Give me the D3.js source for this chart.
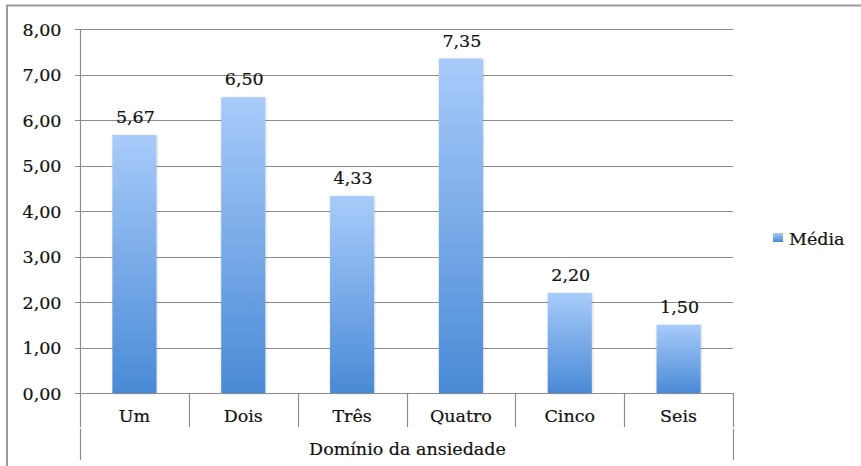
<!DOCTYPE html>
<html>
<head>
<meta charset="utf-8">
<script src="https://cdn.jsdelivr.net/npm/d3@7"></script>
<style>
  html, body { margin: 0; padding: 0; background: #fff; }
  svg { display: block; }
  text { font-family: "DejaVu Serif", "Liberation Serif", serif; fill: #111; stroke: #111; stroke-width: 0.2px; }
</style>
</head>
<body>
<svg id="chart" width="861" height="466"></svg>
<script>
// Chart data
const categories = ["Um", "Dois", "Três", "Quatro", "Cinco", "Seis"];
const media = [5.67, 6.50, 4.33, 7.35, 2.20, 1.50];
const yTicks = [0, 1, 2, 3, 4, 5, 6, 7, 8];
const groupLabel = "Domínio da ansiedade";
const seriesName = "Média";

const fmt = v => d3.format(".2f")(v).replace(".", ",");
const FS = 17.5;

const svg = d3.select("#chart");
const W = 861, H = 466;
const plot = { left: 80, right: 733, top: 29, bottom: 393 };

// Outer frame
svg.append("rect")
  .attr("x", 7).attr("y", 5.5)
  .attr("width", W + 10).attr("height", H + 10)
  .attr("fill", "none").attr("stroke", "#9a9a9a").attr("stroke-width", 2);

const defs = svg.append("defs");
const grad = defs.append("linearGradient")
  .attr("id", "barGrad").attr("x1", 0).attr("y1", 0).attr("x2", 0).attr("y2", 1);
grad.append("stop").attr("offset", "0%").attr("stop-color", "#a8cbfa");
grad.append("stop").attr("offset", "100%").attr("stop-color", "#4a8ad6");

const shadow = defs.append("filter").attr("id", "barShadow")
  .attr("x", "-20%").attr("y", "-5%").attr("width", "140%").attr("height", "110%");
shadow.append("feDropShadow").attr("dx", 0.5).attr("dy", 0.5)
  .attr("stdDeviation", 1.2).attr("flood-color", "#000").attr("flood-opacity", 0.22);

const x = d3.scaleBand().domain(categories).range([plot.left, plot.right]).paddingInner(0).paddingOuter(0);
const y = d3.scaleLinear().domain([0, 8]).range([plot.bottom, plot.top]);

// Gridlines
svg.append("g").selectAll("line").data(yTicks).join("line")
  .attr("x1", plot.left - 5).attr("x2", plot.right)
  .attr("y1", d => Math.round(y(d)) + 0.5).attr("y2", d => Math.round(y(d)) + 0.5)
  .attr("stroke", "#8c8c8c").attr("stroke-width", 1.2);

// Y axis
const yAxis = d3.axisLeft(y).tickValues(yTicks).tickFormat(fmt).tickSize(0).tickPadding(19);
const gy = svg.append("g").attr("transform", `translate(${plot.left + 0.5},0)`).call(yAxis);
gy.select(".domain").remove();
gy.selectAll("text").attr("font-size", FS).attr("font-family", "DejaVu Serif").attr("fill", "#111").attr("dy", "0.36em");
svg.append("line")
  .attr("x1", plot.left + 0.5).attr("x2", plot.left + 0.5)
  .attr("y1", plot.top).attr("y2", plot.bottom)
  .attr("stroke", "#8c8c8c").attr("stroke-width", 1.2);

// Bars
const barW = x.bandwidth() * 0.405;
svg.append("g").selectAll("rect").data(categories).join("rect")
  .attr("x", (d) => x(d) + (x.bandwidth() - barW) / 2)
  .attr("y", (d, i) => y(media[i]))
  .attr("width", barW)
  .attr("height", (d, i) => y(0) - y(media[i]))
  .attr("fill", "url(#barGrad)")
  .attr("filter", "url(#barShadow)");

// Value labels
svg.append("g").selectAll("text").data(categories).join("text")
  .attr("x", d => x(d) + x.bandwidth() / 2 + 1)
  .attr("y", (d, i) => y(media[i]) - 12)
  .attr("text-anchor", "middle")
  .attr("font-size", FS)
  .text((d, i) => fmt(media[i]));

// Category axis: labels, baseline and dividers
const xAxis = d3.axisBottom(x).tickSize(0).tickPadding(17);
const gx = svg.append("g").attr("transform", `translate(0,${plot.bottom})`).call(xAxis);
gx.select(".domain").remove();
gx.selectAll("text").attr("font-size", FS).attr("font-family", "DejaVu Serif").attr("fill", "#111").attr("dy", "0.71em");

svg.append("line")
  .attr("x1", plot.left).attr("x2", plot.right + 1)
  .attr("y1", plot.bottom + 0.5).attr("y2", plot.bottom + 0.5)
  .attr("stroke", "#8c8c8c").attr("stroke-width", 1.2);

const bounds = categories.map(c => x(c)).concat([plot.right]);
svg.append("g").selectAll("line").data(bounds).join("line")
  .attr("x1", d => Math.round(d) + 0.5).attr("x2", d => Math.round(d) + 0.5)
  .attr("y1", plot.bottom).attr("y2", 427)
  .attr("stroke", "#8c8c8c").attr("stroke-width", 1.2);

// Group level
svg.append("g").selectAll("line").data([plot.left, plot.right]).join("line")
  .attr("x1", d => d + 0.5).attr("x2", d => d + 0.5)
  .attr("y1", 428.5).attr("y2", 460)
  .attr("stroke", "#8c8c8c").attr("stroke-width", 1.2);
svg.append("text")
  .attr("x", (plot.left + plot.right) / 2 + 1).attr("y", 455)
  .attr("text-anchor", "middle").attr("font-size", FS)
  .text(groupLabel);

// Legend
const lg = svg.append("g").attr("transform", "translate(773,233)");
lg.append("rect").attr("width", 10).attr("height", 9).attr("fill", "url(#barGrad)");
lg.append("text").attr("x", 16).attr("y", 12).attr("font-size", FS).text(seriesName);
</script>
</body>
</html>
